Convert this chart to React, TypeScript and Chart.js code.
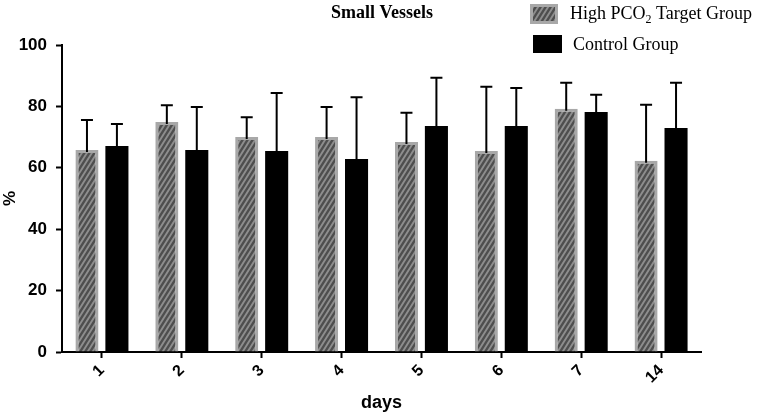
import { useEffect, useRef } from "react";
import { Chart, registerables } from "chart.js";

Chart.register(...registerables);

const days = ["1", "2", "3", "4", "5", "6", "7", "14"];
const highPco2 = [65.8, 74.9, 70.0, 70.0, 68.4, 65.5, 79.2, 62.3];
const highPco2Sd = [9.8, 5.5, 6.5, 9.8, 9.5, 20.9, 8.5, 18.2];
const control = [67.1, 65.8, 65.5, 62.9, 73.6, 73.6, 78.2, 73.0];
const controlSd = [7.2, 14.0, 18.9, 20.1, 15.7, 12.4, 5.6, 14.7];
const yTicks = [0, 20, 40, 60, 80, 100];

const SANS = "'Liberation Sans', Arial, sans-serif";
const SERIF = "'Liberation Serif', 'Times New Roman', serif";

// steep "/" stripes on mid grey
function makeHatch(): CanvasPattern | string {
  const w = 5;
  const h = 8;
  const c = document.createElement("canvas");
  c.width = w;
  c.height = h;
  const ctx = c.getContext("2d");
  if (!ctx) return "#777";
  ctx.fillStyle = "#8e8e8e";
  ctx.fillRect(0, 0, w, h);
  ctx.strokeStyle = "#4e4e4e";
  ctx.lineWidth = 2.3;
  ctx.beginPath();
  for (let k = -1; k <= 1; k++) {
    ctx.moveTo(k * w - w, 2 * h);
    ctx.lineTo(k * w + 2 * w, -h);
  }
  ctx.stroke();
  return ctx.createPattern(c, "repeat") ?? "#777";
}

// upper-only error bars, drawn from each dataset's sd array
const errorBars = {
  id: "errorBars",
  afterDatasetsDraw(chart: any) {
    const { ctx } = chart;
    const y = chart.scales.y;
    chart.data.datasets.forEach((ds: any, i: number) => {
      const meta = chart.getDatasetMeta(i);
      meta.data.forEach((bar: any, j: number) => {
        const top = y.getPixelForValue(ds.data[j] + ds.sd[j]);
        ctx.save();
        ctx.strokeStyle = "#000";
        ctx.lineWidth = 2;
        ctx.beginPath();
        ctx.moveTo(bar.x, bar.y + 2);
        ctx.lineTo(bar.x, top);
        ctx.moveTo(bar.x - 6, top);
        ctx.lineTo(bar.x + 6, top);
        ctx.stroke();
        ctx.restore();
      });
    });
  },
};

// title and legend in the top strip
const header = {
  id: "header",
  afterDraw(chart: any) {
    const { ctx } = chart;
    ctx.save();
    ctx.fillStyle = "#000";
    ctx.textBaseline = "alphabetic";
    ctx.font = `bold 18px ${SERIF}`;
    ctx.textAlign = "center";
    ctx.fillText("Small Vessels", 382, 18);

    const hatch = chart.data.datasets[0].backgroundColor;
    ctx.fillStyle = "#a8a8a8";
    ctx.fillRect(530, 4, 28, 20);
    ctx.fillStyle = hatch;
    ctx.fillRect(533, 7, 22, 14);
    ctx.fillStyle = "#000";
    ctx.fillRect(533, 35, 29, 18);

    ctx.textAlign = "left";
    ctx.font = `18px ${SERIF}`;
    let x = 570;
    ctx.fillText("High PCO", x, 19);
    x += ctx.measureText("High PCO").width;
    ctx.font = `12px ${SERIF}`;
    ctx.fillText("2", x, 23);
    x += ctx.measureText("2").width;
    ctx.font = `18px ${SERIF}`;
    ctx.fillText(" Target Group", x, 19);
    ctx.fillText("Control Group", 573, 50);
    ctx.restore();
  },
};

export default function App() {
  const canvasRef = useRef<HTMLCanvasElement>(null);
  const chartRef = useRef<Chart | null>(null);

  useEffect(() => {
    document.body.style.margin = "0";
    if (!canvasRef.current) return;
    if (chartRef.current) chartRef.current.destroy();

    const hatch = makeHatch();

    chartRef.current = new Chart(canvasRef.current, {
      type: "bar",
      data: {
        labels: days,
        datasets: [
          {
            label: "High PCO2 Target Group",
            data: highPco2,
            sd: highPco2Sd,
            backgroundColor: hatch,
            borderColor: "#a8a8a8",
            borderWidth: 3,
            borderSkipped: "bottom",
          } as any,
          {
            label: "Control Group",
            data: control,
            sd: controlSd,
            backgroundColor: "#000",
            borderWidth: 0,
          } as any,
        ],
      },
      options: {
        animation: false,
        responsive: false,
        devicePixelRatio: 1,
        categoryPercentage: 0.75,
        barPercentage: 0.77,
        layout: { padding: { top: 45, right: 58, left: 0, bottom: 0 } },
        plugins: {
          legend: { display: false },
          title: { display: false },
          tooltip: { enabled: false },
        },
        scales: {
          x: {
            afterFit: (s: any) => {
              s.height = 66;
            },
            grid: {
              display: true,
              offset: false,
              drawOnChartArea: false,
              drawTicks: true,
              tickLength: 6,
              tickWidth: 2,
              tickColor: "#000",
            },
            border: { color: "#000", width: 2 },
            ticks: {
              minRotation: 45,
              maxRotation: 45,
              padding: 3,
              color: "#000",
              font: { family: SANS, size: 16, weight: "bold" },
            },
            title: {
              display: true,
              text: "days",
              color: "#000",
              padding: { top: 0, bottom: 4 },
              font: { family: SANS, size: 18, weight: "bold" },
            },
          },
          y: {
            min: 0,
            max: 100,
            afterFit: (s: any) => {
              s.width = 62;
            },
            afterBuildTicks: (s: any) => {
              s.ticks = yTicks.map((v) => ({ value: v }));
            },
            grid: {
              display: true,
              drawOnChartArea: false,
              drawTicks: true,
              tickLength: 6,
              tickWidth: 2,
              tickColor: "#000",
            },
            border: { color: "#000", width: 2 },
            ticks: {
              padding: 9,
              color: "#000",
              font: { family: SANS, size: 17, weight: "bold" },
            },
            title: {
              display: true,
              text: "%",
              color: "#000",
              padding: 0,
              font: { family: SANS, size: 17, weight: "bold" },
            },
          },
        },
      },
      plugins: [errorBars, header],
    } as any);

    return () => {
      if (chartRef.current) {
        chartRef.current.destroy();
        chartRef.current = null;
      }
    };
  }, []);

  return (
    <div style={{ width: 759, height: 418, background: "#fff" }}>
      <canvas ref={canvasRef} width={759} height={418} />
    </div>
  );
}
